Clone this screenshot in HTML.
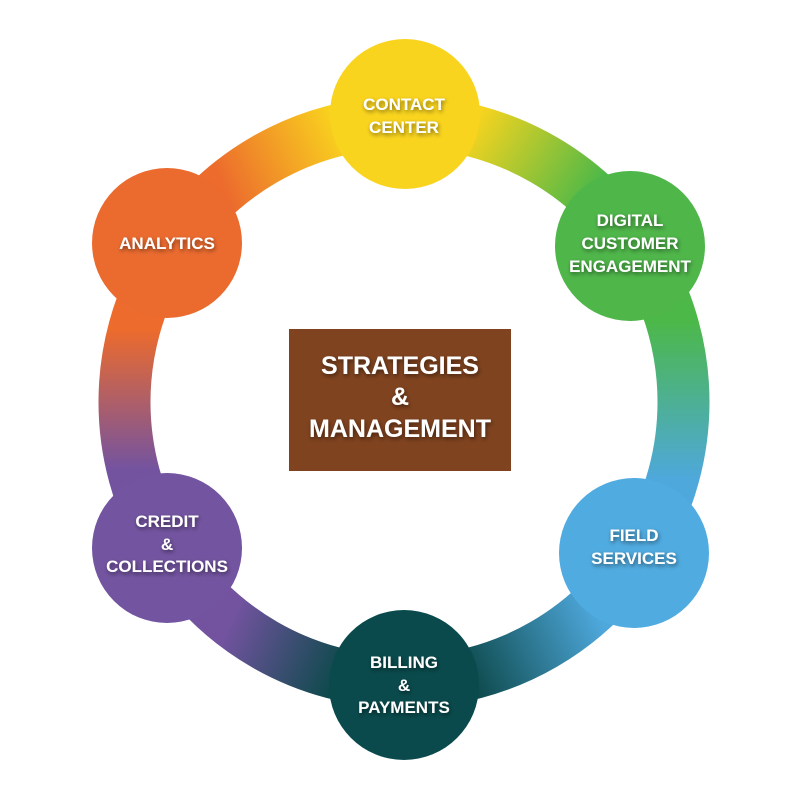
<!DOCTYPE html>
<html><head><style>
html,body{margin:0;padding:0;background:#fff}
svg text{font-family:"Liberation Sans",sans-serif;font-weight:bold;fill:#fff;text-anchor:middle}
</style></head><body>
<svg width="800" height="800" viewBox="0 0 800 800" xmlns="http://www.w3.org/2000/svg">
<defs>
<filter id="sh" x="-20%" y="-20%" width="140%" height="140%"><feGaussianBlur in="SourceAlpha" stdDeviation="2"/><feOffset dx="1" dy="2"/><feComponentTransfer><feFuncA type="linear" slope="0.5"/></feComponentTransfer><feMerge><feMergeNode/><feMergeNode in="SourceGraphic"/></feMerge></filter>
<linearGradient id="g1" gradientUnits="userSpaceOnUse" x1="470" y1="125" x2="590" y2="200"><stop offset="0" stop-color="#F9D41E"/><stop offset="1" stop-color="#4CB848"/></linearGradient>
<linearGradient id="g2" gradientUnits="userSpaceOnUse" x1="660" y1="320" x2="660" y2="480"><stop offset="0" stop-color="#4CB848"/><stop offset="1" stop-color="#4EA8DC"/></linearGradient>
<linearGradient id="g3" gradientUnits="userSpaceOnUse" x1="600" y1="620" x2="470" y2="680"><stop offset="0" stop-color="#4EA8DC"/><stop offset="1" stop-color="#0E4A4C"/></linearGradient>
<linearGradient id="g4" gradientUnits="userSpaceOnUse" x1="340" y1="670" x2="230" y2="620"><stop offset="0" stop-color="#0E4A4C"/><stop offset="1" stop-color="#7353A0"/></linearGradient>
<linearGradient id="g5" gradientUnits="userSpaceOnUse" x1="124" y1="470" x2="124" y2="330"><stop offset="0" stop-color="#7353A0"/><stop offset="1" stop-color="#EC6B2D"/></linearGradient>
<linearGradient id="g6" gradientUnits="userSpaceOnUse" x1="220" y1="180" x2="340" y2="125"><stop offset="0" stop-color="#EC6B2D"/><stop offset="1" stop-color="#F9D41E"/></linearGradient>
</defs>
<g fill="none" stroke-width="52">
<path d="M404 122 A280 280 0 0 1 646 262" stroke="url(#g1)"/>
<path d="M646 262 A280 280 0 0 1 646 542" stroke="url(#g2)"/>
<path d="M646 542 A280 280 0 0 1 404 682" stroke="url(#g3)"/>
<path d="M404 682 A280 280 0 0 1 162 542" stroke="url(#g4)"/>
<path d="M162 542 A280 280 0 0 1 162 262" stroke="url(#g5)"/>
<path d="M162 262 A280 280 0 0 1 404 122" stroke="url(#g6)"/>
</g>
<circle cx="405" cy="114" r="75" fill="#F9D41E"/>
<circle cx="630" cy="246" r="75" fill="#4FB64A"/>
<circle cx="634" cy="553" r="75" fill="#50ABE0"/>
<circle cx="404" cy="685" r="75" fill="#0A4A4C"/>
<circle cx="167" cy="548" r="75" fill="#7354A0"/>
<circle cx="167" cy="243" r="75" fill="#EB6B2F"/>
<rect x="289" y="329" width="222" height="142" fill="#80431F"/>
<g filter="url(#sh)" font-size="17">
<text x="404" y="110">CONTACT</text><text x="404" y="133">CENTER</text>
<text x="630" y="226">DIGITAL</text><text x="630" y="249">CUSTOMER</text><text x="630" y="272">ENGAGEMENT</text>
<text x="634" y="541">FIELD</text><text x="634" y="564">SERVICES</text>
<text x="404" y="668">BILLING</text><text x="404" y="691">&amp;</text><text x="404" y="713">PAYMENTS</text>
<text x="167" y="527">CREDIT</text><text x="167" y="550">&amp;</text><text x="167" y="572">COLLECTIONS</text>
<text x="167" y="249">ANALYTICS</text>
</g>
<g filter="url(#sh)" font-size="25">
<text x="400" y="374">STRATEGIES</text><text x="400" y="405">&amp;</text><text x="400" y="437">MANAGEMENT</text>
</g>
</svg>
</body></html>
